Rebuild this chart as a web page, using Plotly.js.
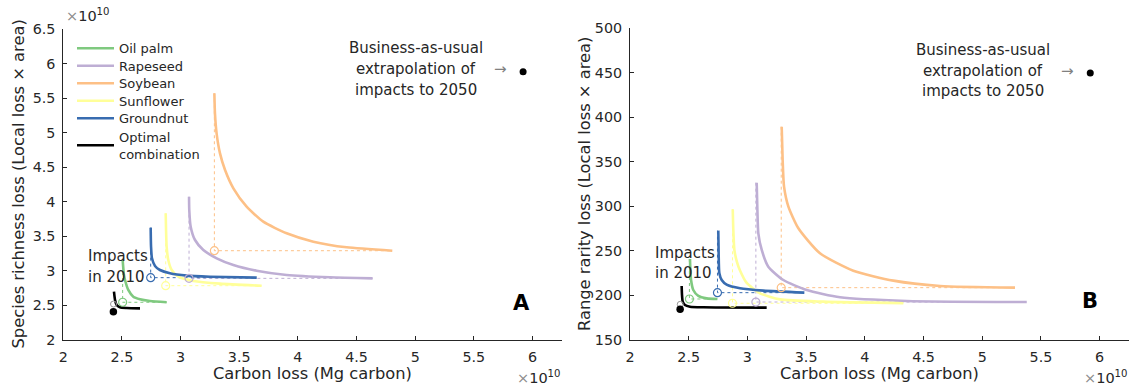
<!DOCTYPE html>
<html>
<head>
<meta charset="utf-8">
<script src="https://cdn.plot.ly/plotly-3.0.1.min.js"></script>
<style>
  html, body { margin: 0; padding: 0; background: #fff; }
  #chart { width: 1132px; height: 389px; }
</style>
</head>
<body>
<div id="chart"></div>
<script>
// ---------------- DATA ----------------
const cropNames = ['Oil palm', 'Rapeseed', 'Soybean', 'Sunflower', 'Groundnut'];
const optimalName = 'Optimal<br>combination';
const cropColors = ['#7fc97f', '#beaed4', '#fdc086', '#ffff99', '#386cb0'];

const xTickVals = [2, 2.5, 3, 3.5, 4, 4.5, 5, 5.5, 6];
const xTickText = ['2', '2.5', '3', '3.5', '4', '4.5', '5', '5.5', '6'];
const yTickValsA = [2, 2.5, 3, 3.5, 4, 4.5, 5, 5.5, 6, 6.5];
const yTickTextA = ['2', '2.5', '3', '3.5', '4', '4.5', '5', '5.5', '6', '6.5'];
const yTickValsB = [150, 200, 250, 300, 350, 400, 450, 500];
const yTickTextB = ['150', '200', '250', '300', '350', '400', '450', '500'];

// Panel A: carbon loss (x 1e10 Mg C) vs species richness loss (x 1e10)
const oilPalmA_x   = [2.506, 2.517, 2.526, 2.554, 2.597, 2.654, 2.739, 2.881];
const oilPalmA_y   = [3.158, 2.941, 2.868, 2.724, 2.627, 2.589, 2.564, 2.546];
const rapeseedA_x  = [3.072, 3.074, 3.086, 3.123, 3.194, 3.308, 3.450, 3.648, 3.904, 4.274, 4.637];
const rapeseedA_y  = [4.074, 3.881, 3.640, 3.447, 3.302, 3.182, 3.085, 3.003, 2.941, 2.907, 2.892];
const soybeanA_x   = [3.288, 3.293, 3.307, 3.336, 3.379, 3.450, 3.563, 3.705, 3.904, 4.132, 4.416, 4.805];
const soybeanA_y   = [5.570, 5.280, 4.991, 4.701, 4.460, 4.195, 3.929, 3.712, 3.544, 3.423, 3.341, 3.292];
const sunflowerA_x = [2.873, 2.876, 2.881, 2.895, 2.924, 2.981, 3.109, 3.336, 3.691];
const sunflowerA_y = [3.833, 3.592, 3.351, 3.158, 3.013, 2.917, 2.854, 2.815, 2.786];
const groundnutA_x = [2.745, 2.748, 2.756, 2.782, 2.824, 2.909, 3.052, 3.251, 3.649];
const groundnutA_y = [3.626, 3.351, 3.182, 3.071, 3.013, 2.965, 2.931, 2.916, 2.902];
const optimalA_x   = [2.432, 2.441, 2.455, 2.483, 2.540, 2.654];
const optimalA_y   = [2.699, 2.579, 2.507, 2.473, 2.463, 2.458];

// Panel B: carbon loss vs range rarity loss
const oilPalmB_x   = [2.511, 2.514, 2.520, 2.539, 2.582, 2.653, 2.744];
const oilPalmB_y   = [240.9, 228.5, 217.3, 206.1, 199.4, 196.7, 196.0];
const rapeseedB_x  = [3.079, 3.085, 3.093, 3.122, 3.178, 3.306, 3.505, 3.789, 4.357, 5.379];
const rapeseedB_y  = [326.5, 295.8, 269.7, 251.0, 232.3, 217.3, 206.1, 197.9, 193.8, 192.6];
const soybeanB_x   = [3.292, 3.300, 3.312, 3.349, 3.434, 3.618, 3.902, 4.243, 4.641, 5.279];
const soybeanB_y   = [389.3, 351.9, 322.0, 299.6, 275.3, 247.2, 227.7, 216.6, 210.6, 208.7];
const sunflowerB_x = [2.875, 2.880, 2.889, 2.910, 2.937, 2.994, 3.107, 3.278, 3.647, 4.328];
const sunflowerB_y = [296.6, 273.4, 251.0, 238.0, 228.0, 214.0, 202.4, 195.6, 193.0, 191.2];
const groundnutB_x = [2.752, 2.755, 2.761, 2.781, 2.823, 2.937, 3.136, 3.485];
const groundnutB_y = [272.7, 247.2, 224.8, 217.3, 212.1, 208.0, 205.4, 203.1];
const optimalB_x   = [2.440, 2.443, 2.449, 2.468, 2.511, 2.625, 3.164];
const optimalB_y   = [210.6, 200.5, 193.0, 189.3, 187.4, 186.7, 186.3];

// Impacts in 2010 (open circles), order as cropNames
const impacts2010_x  = [2.506, 3.072, 3.288, 2.873, 2.745];
const impacts2010A_y = [2.546, 2.892, 3.292, 2.786, 2.902];
const impacts2010B_y = [196.0, 192.6, 208.7, 191.2, 203.1];

// Optimal-combination 2010 point (filled) and grey marker
const optimal2010_x  = [2.427];
const optimal2010A_y = [2.410];
const optimal2010B_y = [184.4];
const optimalGrey_x  = [2.428];
const optimalGreyA_y = [2.52];
const optimalGreyB_y = [190.0];

// Business-as-usual extrapolation to 2050
const bau2050_x  = [5.92];
const bau2050A_y = [5.88];
const bau2050B_y = [449.5];
const bauLines = ['Business-as-usual', 'extrapolation of', 'impacts to 2050'];

// ---------------- BUILD ----------------
const curvesA = [
  [oilPalmA_x, oilPalmA_y], [rapeseedA_x, rapeseedA_y], [soybeanA_x, soybeanA_y],
  [sunflowerA_x, sunflowerA_y], [groundnutA_x, groundnutA_y]
];
const curvesB = [
  [oilPalmB_x, oilPalmB_y], [rapeseedB_x, rapeseedB_y], [soybeanB_x, soybeanB_y],
  [sunflowerB_x, sunflowerB_y], [groundnutB_x, groundnutB_y]
];
const legendIds = ['legend', 'legend2', 'legend3', 'legend4', 'legend5', 'legend6'];

const traces = [];
function addPanel(curves, impY, optX, optY, o2010Y, greyY, bauY, xa, ya, legend) {
  curves.forEach((c, i) => {
    const cx = impacts2010_x[i], cy = impY[i];
    traces.push({
      x: [cx, cx, c[0][c[0].length - 1]],
      y: [c[1][0], cy, cy],
      mode: 'lines', xaxis: xa, yaxis: ya, showlegend: false, hoverinfo: 'skip',
      line: { color: cropColors[i], width: 1, dash: 'dot' }
    });
  });
  curves.forEach((c, i) => {
    traces.push({
      x: c[0], y: c[1], mode: 'lines', name: cropNames[i], xaxis: xa, yaxis: ya,
      legend: legendIds[i],
      showlegend: legend, line: { color: cropColors[i], width: 2.6, shape: 'spline', smoothing: 0.6 }
    });
  });
  traces.push({
    x: optX, y: optY, mode: 'lines', name: optimalName, xaxis: xa, yaxis: ya,
    legend: legendIds[5],
    showlegend: legend, line: { color: '#000000', width: 2.6, shape: 'spline', smoothing: 0.6 }
  });
  curves.forEach((c, i) => {
    traces.push({
      x: [impacts2010_x[i]], y: [impY[i]], mode: 'markers', xaxis: xa, yaxis: ya, showlegend: false,
      marker: { symbol: 'circle-open', size: 8, color: cropColors[i], line: { width: 1.2 } }
    });
  });
  traces.push({
    x: optimalGrey_x, y: greyY, mode: 'markers', xaxis: xa, yaxis: ya, showlegend: false,
    marker: { symbol: 'circle-open', size: 6, color: '#999999', line: { width: 1 } }
  });
  traces.push({
    x: optimal2010_x, y: o2010Y, mode: 'markers', xaxis: xa, yaxis: ya, showlegend: false,
    marker: { symbol: 'circle', size: 7.5, color: '#000000' }
  });
  traces.push({
    x: bau2050_x, y: bauY, mode: 'markers', xaxis: xa, yaxis: ya, showlegend: false,
    marker: { symbol: 'circle', size: 7, color: '#000000' }
  });
}
addPanel(curvesA, impacts2010A_y, optimalA_x, optimalA_y, optimal2010A_y, optimalGreyA_y, bau2050A_y, 'x', 'y', true);
addPanel(curvesB, impacts2010B_y, optimalB_x, optimalB_y, optimal2010B_y, optimalGreyB_y, bau2050B_y, 'x2', 'y2', false);

const W = 1132, H = 389;
const px = v => v / W;
const py = v => 1 - v / H;
const ink = '#262626';
const FONT = 'DejaVu Sans, Verdana, sans-serif';

function axisBase() {
  return {
    showline: true, linecolor: ink, linewidth: 1, mirror: false,
    ticks: 'inside', ticklen: 4, tickwidth: 1, tickcolor: ink,
    showgrid: false, zeroline: false, fixedrange: true,
    tickfont: { size: 14.3, color: ink, family: FONT }, ticklabelstandoff: 4
  };
}

const layout = {
  width: W, height: H,
  margin: { l: 0, r: 0, t: 0, b: 0 },
  paper_bgcolor: '#ffffff', plot_bgcolor: 'rgba(0,0,0,0)',
  font: { family: FONT, color: ink },
  showlegend: true,
  xaxis: Object.assign(axisBase(), {
    domain: [px(63.3), px(561.8)], range: [2, 6.25], anchor: 'y',
    tickmode: 'array', tickvals: xTickVals, ticktext: xTickText
  }),
  yaxis: Object.assign(axisBase(), {
    domain: [py(340), py(29)], range: [2, 6.5], anchor: 'x',
    tickmode: 'array', tickvals: yTickValsA, ticktext: yTickTextA
  }),
  xaxis2: Object.assign(axisBase(), {
    domain: [px(630), px(1129)], range: [2, 6.25], anchor: 'y2',
    tickmode: 'array', tickvals: xTickVals, ticktext: xTickText
  }),
  yaxis2: Object.assign(axisBase(), {
    domain: [py(340), py(28)], range: [150, 500], anchor: 'x2',
    tickmode: 'array', tickvals: yTickValsB, ticktext: yTickTextB
  }),
  annotations: []
};

// one legend per entry so the entries sit at the reference spacing
const legendRowY = [48.3, 65.8, 83.3, 100.8, 118.3, 145.3];
legendIds.forEach((id, i) => {
  layout[id] = {
    x: px(72), y: py(legendRowY[i]), xanchor: 'left', yanchor: 'middle',
    bgcolor: 'rgba(0,0,0,0)', borderwidth: 0, itemwidth: 37,
    font: { size: 13, color: ink, family: FONT },
    tracegroupgap: 0, itemclick: false, itemdoubleclick: false
  };
});

const ann = layout.annotations;
const T = (o) => ann.push(Object.assign({ showarrow: false, xanchor: 'center', yanchor: 'middle', font: { family: FONT, color: ink, size: 15 } }, o));

// axis titles
const titleFont = { family: FONT, color: ink, size: 16.3 };
T({ xref: 'paper', yref: 'paper', x: px(18), y: py(184.5), text: 'Species richness loss (Local loss × area)', textangle: -90, font: titleFont });
T({ xref: 'paper', yref: 'paper', x: px(584), y: py(184), text: 'Range rarity loss (Local loss × area)', textangle: -90, font: titleFont });
T({ xref: 'paper', yref: 'paper', x: px(312.5), y: py(373.5), text: 'Carbon loss (Mg carbon)', font: titleFont });
T({ xref: 'paper', yref: 'paper', x: px(879.5), y: py(373.5), text: 'Carbon loss (Mg carbon)', font: titleFont });

// exponent labels
const expTxt = '<span style="color:#8c8c8c">×</span>10<sup>10</sup>';
const expFont = { family: FONT, color: ink, size: 14.5 };
T({ xref: 'paper', yref: 'paper', x: px(64), y: py(15), xanchor: 'left', text: expTxt, font: expFont });
T({ xref: 'paper', yref: 'paper', x: px(563), y: py(377), xanchor: 'right', text: expTxt, font: expFont });
T({ xref: 'paper', yref: 'paper', x: px(1130), y: py(377), xanchor: 'right', text: expTxt, font: expFont });

// BAU text + arrow
const bauShift = [23.4, 2.4, -18.3];
[['x', 'y', bau2050A_y[0]], ['x2', 'y2', bau2050B_y[0]]].forEach(([xr, yr, yv]) => {
  bauLines.forEach((s, k) => {
    T({ xref: xr, yref: yr, x: bau2050_x[0], y: yv, xshift: -107, yshift: bauShift[k], text: s });
  });
  T({ xref: xr, yref: yr, x: bau2050_x[0], y: yv, xshift: -23, yshift: 2.4, text: '→', font: { family: FONT, color: '#808080', size: 15 } });
});

// Impacts in 2010 labels
T({ xref: 'paper', yref: 'paper', x: px(85.5), y: py(256), xanchor: 'left', text: 'Impacts' });
T({ xref: 'paper', yref: 'paper', x: px(85.5), y: py(276.7), xanchor: 'left', text: 'in 2010' });
T({ xref: 'paper', yref: 'paper', x: px(652.5), y: py(252.7), xanchor: 'left', text: 'Impacts' });
T({ xref: 'paper', yref: 'paper', x: px(652.5), y: py(272.7), xanchor: 'left', text: 'in 2010' });

// panel letters
T({ xref: 'paper', yref: 'paper', x: px(521), y: py(303), text: '<b>A</b>', font: { family: FONT, color: '#000', size: 21 } });
T({ xref: 'paper', yref: 'paper', x: px(1090), y: py(301), text: '<b>B</b>', font: { family: FONT, color: '#000', size: 21 } });

Plotly.newPlot('chart', traces, layout, { staticPlot: true, displayModeBar: false });
</script>
</body>
</html>
